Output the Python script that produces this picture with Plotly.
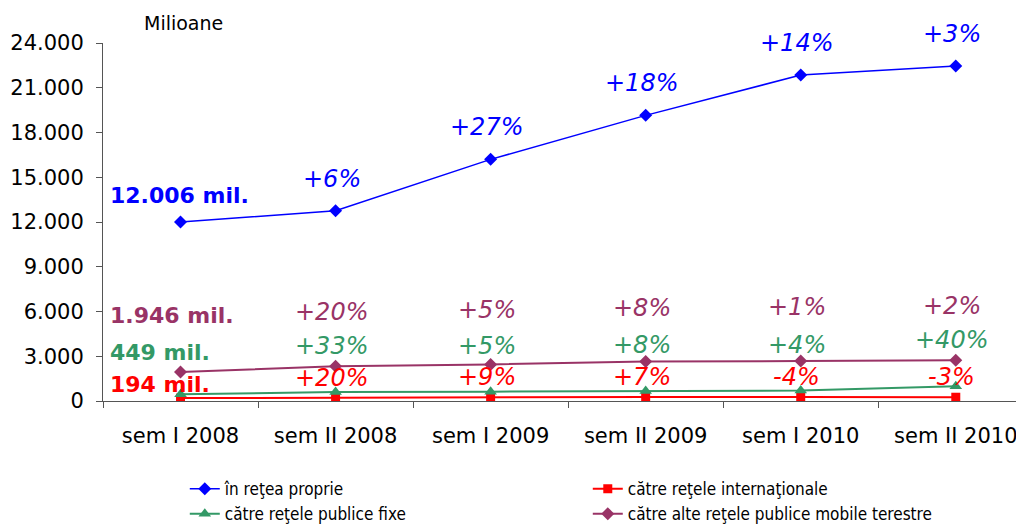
import plotly.graph_objects as go

# Semestre
categorii = ["sem I 2008", "sem II 2008", "sem I 2009", "sem II 2009", "sem I 2010", "sem II 2010"]

# Trafic (milioane minute)
retea_proprie = [12006, 12750, 16200, 19150, 21850, 22450]
internationale = [194, 233, 254, 272, 261, 253]
publice_fixe = [449, 597, 627, 677, 704, 986]
alte_mobile = [1946, 2335, 2452, 2648, 2675, 2728]

# Cresteri fata de semestrul anterior
pct_proprie = ["", "+6%", "+27%", "+18%", "+14%", "+3%"]
pct_internationale = ["", "+20%", "+9%", "+7%", "-4%", "-3%"]
pct_fixe = ["", "+33%", "+5%", "+8%", "+4%", "+40%"]
pct_mobile = ["", "+20%", "+5%", "+8%", "+1%", "+2%"]

etichete_start = ["12.006 mil.", "194 mil.", "449 mil.", "1.946 mil."]

serii = [
    ("în reţea proprie", retea_proprie, "#0000FF", "diamond", 10, 1.5, pct_proprie, 32, 26),
    ("către reţele internaţionale", internationale, "#FF0000", "square", 9, 2, pct_internationale, 20, 14),
    ("către reţele publice fixe", publice_fixe, "#339966", "triangle-up", 11, 2, pct_fixe, 46, 42),
    ("către alte reţele publice mobile terestre", alte_mobile, "#993366", "diamond", 10, 2, pct_mobile, 54, 56),
]

fig = go.Figure()
for nume, val, col, simbol, dim, lat, _, _, _ in serii:
    fig.add_trace(go.Scatter(
        x=categorii, y=val, name=nume, mode="lines+markers",
        line=dict(color=col, width=lat),
        marker=dict(symbol=simbol, size=dim, color=col),
    ))

# etichete procentuale
for (nume, val, col, _, _, _, pct, dy, dy0), start in zip(serii, etichete_start):
    for c, v, t in zip(categorii, val, pct):
        if t:
            fig.add_annotation(x=c, y=v, text=t, showarrow=False, yshift=dy, xshift=-4,
                               font=dict(family="DejaVu Sans", size=24, color=col, style="italic"))
    fig.add_annotation(x=categorii[0], y=val[0], text="<b>" + start + "</b>", showarrow=False,
                       xanchor="left", xshift=-73, yshift=dy0,
                       font=dict(family="DejaVu Sans", size=22, color=col))

fig.add_annotation(xref="paper", yref="paper", x=0.042, y=1.0, yanchor="bottom", xanchor="left",
                   text="Milioane", showarrow=False, yshift=7,
                   font=dict(family="DejaVu Sans", size=19, color="black"))

fig.update_xaxes(
    range=[-0.5, 5.44], showline=True, linecolor="#555555", linewidth=1,
    ticks="outside", tickson="boundaries", ticklen=6, tickcolor="#555555",
    ticklabelstandoff=16,
    tickfont=dict(family="DejaVu Sans", size=21, color="black"),
    showgrid=False, zeroline=False,
)
fig.update_yaxes(
    range=[0, 24000], tickvals=list(range(0, 24001, 3000)),
    ticktext=["0", "3.000", "6.000", "9.000", "12.000", "15.000", "18.000", "21.000", "24.000"],
    showline=True, linecolor="#555555", linewidth=1,
    ticks="outside", ticklen=6, tickcolor="#555555",
    ticklabelstandoff=8,
    tickfont=dict(family="DejaVu Sans", size=21, color="black"),
    showgrid=False, zeroline=False,
)

fig.update_layout(
    width=1016, height=518,
    plot_bgcolor="white", paper_bgcolor="white",
    margin=dict(l=95, r=0, t=35, b=125),
    legend=dict(
        orientation="h", xref="container", yref="container",
        x=0.174, y=0.106, xanchor="left", yanchor="top",
        entrywidth=358, tracegroupgap=0,
        font=dict(family="Liberation Sans Narrow, DejaVu Sans Condensed, Liberation Sans", size=17, color="black"),
    ),
    showlegend=True,
)

fig.write_html("out.html")
